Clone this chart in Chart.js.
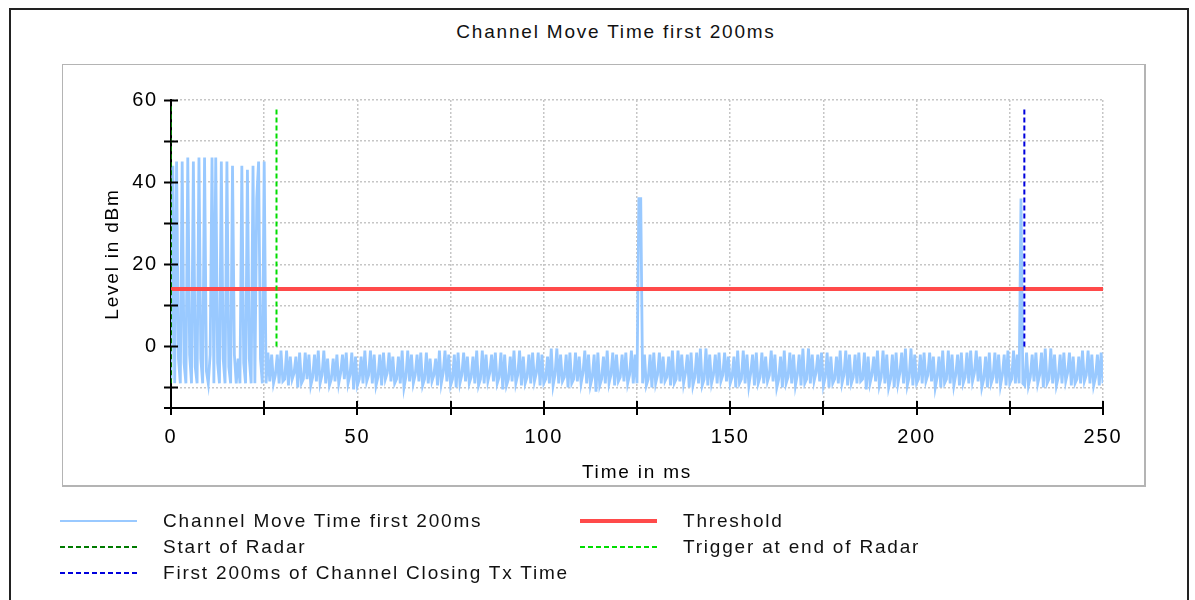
<!DOCTYPE html>
<html>
<head>
<meta charset="utf-8">
<script src="https://cdn.jsdelivr.net/npm/chart.js@4"></script>
<style>
    body { margin: 0; background: #fff; font-family: 'Liberation Sans', Arial, sans-serif; }
    #page { position: relative; width: 1195px; height: 600px; overflow: hidden; }
    #frame { position: absolute; left: 9px; top: 8px; width: 1180px; height: 620px; border: 2px solid #222; box-sizing: border-box; }
    #panel { position: absolute; left: 62px; top: 64px; width: 1084px; height: 423px; border: 2px solid #b4b4b4; border-left-width: 1px; border-top-width: 1px; box-sizing: border-box; }
    #titulo { position: absolute; left: 316px; top: 21px; width: 600px; text-align: center; font-size: 19px; letter-spacing: 1.8px; color: #111; }
    #wrap { position: absolute; left: 0; top: 0; width: 1195px; height: 600px; }
    .leg { position: absolute; height: 24px; font-size: 19px; letter-spacing: 1.8px; color: #111; line-height: 24px; }
    .leg span.amostra { position: absolute; left: 0; top: 11px; width: 77px; height: 0; }
    .leg span.texto { position: absolute; left: 103px; top: 0; white-space: nowrap; }
</style>
</head>
<body>
<div id="page">
    <div id="frame"></div>
    <div id="panel"></div>
    <div id="titulo">Channel Move Time first 200ms</div>
    <div id="wrap"><canvas id="grafico"></canvas></div>
    <div id="legenda"></div>
</div>
<script>
// amostras do sinal (dBm), uma a cada 0.5 ms a partir de 0 ms
const sampleStartMs = 0;
const sampleStepMs = 0.5;
const levelDbm = [
    -8, 44, -9, 45, -3, -9, 45, -4, -9, 46,
    -2, -9, 45, -5, -9, 46, -3, -9, 46, -6,
    -9, -2, 46, -9, 46, -4, -9, 45, -3, -9,
    45, -5, -9, 44, -2, -9, -3, -9, 44, -4,
    -9, 43, -3, -9, 44, -9, 36, 45, -3, -9,
    45, -9,
    -1.5, -8.5, -2, -9, -7, -2, -9, -1, -8.5, -8,
    -1, -9.5, -2.5, -8, -6.5, -2.5, -10, -1.5, -9, -8,
    -1.5, -8, -2, -9.5, -7.5, -2, -8.5, -1, -9, -7,
    -1, -9, -3, -9.5, -8, -3, -8.5, -2, -9, -6.5,
    -2, -8, -1.5, -9, -7, -1.5, -10.5, -2.5, -9.5, -8,
    -2.5, -9, -1, -8.5, -7, -1, -9, -2, -9.5, -7.5,
    -2, -9.5, -1.5, -8, -6.5, -1.5, -8.5, -2.5, -9, -8,
    -2.5, -9, -1, -10, -7.5, -1, -8.5, -2, -9, -7,
    -2, -8.5, -1.5, -9.5, -8, -1.5, -9, -3, -8.5, -7,
    -3, -9.5, -1, -9, -6.5, -1, -8.5, -2, -9.5, -8,
    -2, -10, -1.5, -9, -7, -1.5, -8.5, -2.5, -9, -7.5,
    -2.5, -9, -1, -9.5, -8, -1, -9, -2, -8.5, -6.5,
    -2, -8.5, -1.5, -9, -7.5, -1.5, -10.5, -2, -9.5, -8,
    -2.5, -8.5, -1, -9, -7, -1, -9.5, -2.5, -9, -7.5,
    -2, -9, -1.5, -8.5, -6.5, -1.5, -9.5, -2, -9, -8,
    -2.5, -9, -0.5, -9.5, -7, -0.5, -9, -2, -8.5, -7.5,
    -2, -10, -1.5, -9, -8, -1.5, -8.5, -2.5, -9, -6.5,
    -1, -9, -2, -9.5, -7.5, -2, -11, -1.5, -9.5, -8,
    -2.5, -9, -1, -9, -7, -1.5, -9.5, -2, -8.5, -7.5,
    -2, -8.5, -1.5, -9, -7, -1, -9, -2, -9, 36,
    36, -9, -2, -9.5, -8, -2, -10, -1.5, -9, -7,
    -1.5, -9, -2.5, -8.5, -7.5, -2.5, -9.5, -1, -9, -8,
    -1, -8.5, -2, -9, -6.5, -2, -10, -1.5, -9.5, -7.5,
    -1.5, -9, -0.5, -9.5, -8, -0.5, -9.5, -2, -9, -7,
    -2, -9, -1.5, -8.5, -7, -1.5, -8.5, -2.5, -9, -7.5,
    -2.5, -10, -1, -9, -8, -1, -9, -2, -9.5, -6.5,
    -2, -9.5, -1.5, -9, -7.5, -1.5, -9, -2.5, -8.5, -7,
    -1, -8.5, -2, -10, -8, -2.5, -10, -1, -9, -7.5,
    -1.5, -9, -2, -9.5, -7, -2, -9.5, -0.5, -9, -8,
    -0.5, -9, -2, -8.5, -6.5, -2, -8.5, -1.5, -9.5, -7.5,
    -1.5, -10, -2.5, -9, -8, -2.5, -9, -1, -9, -7,
    -1, -9.5, -2, -9, -7.5, -2, -9, -1.5, -8.5, -8,
    -1.5, -10.5, -2.5, -9, -7, -2.5, -8.5, -1, -9.5, -7.5,
    -1, -9, -2, -10, -8, -2, -10, -1.5, -9, -6.5,
    -1.5, -9, -0.5, -9.5, -7.5, -0.5, -9.5, -2, -9, -8,
    -2, -9, -1.5, -8.5, -7, -1.5, -8.5, -2.5, -10, -7.5,
    -2.5, -10, -1, -9, -8, -1, -9, -2, -9.5, -7,
    -2, -9.5, -1.5, -9, -7.5, -1.5, -9, -1, -8.5, -6.5,
    -1, -8.5, -2.5, -10, -8, -2.5, -10, -1.5, -9, -7.5,
    -1.5, -9, -2, -9.5, -7, -2, -9.5, -1, -9, -8,
    -1, -9, -2, -9, 36, -9, -9.5, -1.5, -9.5, -7.5,
    -2, -8.5, -1.5, -9, -7, -1.5, -10, -0.5, -9, -8,
    -0.5, -9, -2, -9.5, -7.5, -2, -9, -1.5, -8.5, -6.5,
    -1.5, -9.5, -2.5, -9, -8, -2.5, -9, -1, -8.5, -7,
    -1, -9, -2, -9.5, -7.5, -2, -9.5, -1.5, -9
];

const thresholdDbm = 14;
const startRadarMs = 0;
const triggerMs = 28.3;
const closingTxMs = 228.9;
const startRadarRange = [-9, 59];
const markerRange = [0, 58];

const xTicksMs = [0, 50, 100, 150, 200, 250];
const yTicksDbm = [0, 20, 40, 60];

const nomes = {
    sinal: 'Channel Move Time first 200ms',
    limiar: 'Threshold',
    inicio: 'Start of Radar',
    gatilho: 'Trigger at end of Radar',
    fechamento: 'First 200ms of Channel Closing Tx Time'
};

const cores = {
    sinal: '#99c9ff',
    limiar: '#ff4a4a',
    inicio: '#007a00',
    gatilho: '#00dd00',
    fechamento: '#0000dd'
};

const fonteTexto = "'Liberation Sans', Arial, sans-serif";

function pontosSinal() {
    return levelDbm.map((v, i) => ({ x: sampleStartMs + i * sampleStepMs, y: v }));
}

function linhaVertical(x, faixa) {
    return [{ x: x, y: faixa[0] }, { x: x, y: faixa[1] }];
}

// marcas de escala em cruz, como no original
const marcasEixo = {
    id: 'marcasEixo',
    beforeDraw(chart) {
        chart.ctx.letterSpacing = '1.8px';
    },
    afterDraw(chart) {
        const ctx = chart.ctx;
        const xs = chart.scales.x;
        const ys = chart.scales.y;
        const x0 = xs.getPixelForValue(0);
        const yBase = chart.chartArea.bottom;
        ctx.save();
        ctx.strokeStyle = '#000';
        ctx.lineWidth = 2;
        ctx.beginPath();
        ys.ticks.forEach(t => {
            const py = Math.round(ys.getPixelForValue(t.value)) + 0.5;
            ctx.moveTo(x0 - 7, py);
            ctx.lineTo(x0 + 7, py);
        });
        ctx.moveTo(x0 - 7, yBase);
        ctx.lineTo(x0 + 7, yBase);
        xs.ticks.forEach(t => {
            const px = Math.round(xs.getPixelForValue(t.value));
            ctx.moveTo(px, yBase - 7);
            ctx.lineTo(px, yBase + 7);
        });
        ctx.stroke();
        ctx.restore();
    }
};

const ctx = document.getElementById('grafico').getContext('2d');
const grafico = new Chart(ctx, {
    type: 'line',
    data: {
        datasets: [
            {
                label: nomes.sinal,
                data: pontosSinal(),
                borderColor: cores.sinal,
                borderWidth: 2.8,
                pointRadius: 0,
                tension: 0,
                order: 5
            },
            {
                label: nomes.limiar,
                data: [{ x: 0, y: thresholdDbm }, { x: 250, y: thresholdDbm }],
                borderColor: cores.limiar,
                borderWidth: 4,
                pointRadius: 0,
                order: 4
            },
            {
                label: nomes.inicio,
                data: linhaVertical(startRadarMs, startRadarRange),
                borderColor: cores.inicio,
                borderWidth: 2,
                borderDash: [5, 3],
                pointRadius: 0,
                order: 3
            },
            {
                label: nomes.gatilho,
                data: linhaVertical(triggerMs, markerRange),
                borderColor: cores.gatilho,
                borderWidth: 2,
                borderDash: [5, 3],
                pointRadius: 0,
                order: 2
            },
            {
                label: nomes.fechamento,
                data: linhaVertical(closingTxMs, markerRange),
                borderColor: cores.fechamento,
                borderWidth: 2,
                borderDash: [5, 3],
                pointRadius: 0,
                order: 1
            }
        ]
    },
    options: {
        responsive: true,
        maintainAspectRatio: false,
        animation: false,
        layout: { padding: { left: 100, right: 92, top: 100, bottom: 112 } },
        plugins: {
            legend: { display: false },
            title: { display: false },
            tooltip: { enabled: false }
        },
        scales: {
            x: {
                type: 'linear',
                min: 0,
                max: 250,
                afterFit: (s) => { s.height = 80; },
                border: { display: true, color: '#000', width: 2, dash: [2, 2] },
                grid: { color: '#c6c6c6', lineWidth: 1.5, drawTicks: false },
                ticks: {
                    stepSize: 25,
                    padding: 17,
                    color: '#000',
                    font: { family: fonteTexto, size: 20 },
                    maxRotation: 0,
                    autoSkip: false,
                    callback: (v) => xTicksMs.includes(v) ? String(v) : ''
                },
                title: {
                    display: true,
                    text: 'Time in ms',
                    color: '#000',
                    font: { family: fonteTexto, size: 19 },
                    padding: { top: 0, bottom: 4 }
                }
            },
            y: {
                min: -15,
                max: 60,
                afterFit: (s) => { s.width = 71; },
                border: { display: true, color: '#000', width: 2, dash: [2, 2] },
                grid: { color: '#c6c6c6', lineWidth: 1.5, drawTicks: false },
                ticks: {
                    stepSize: 10,
                    includeBounds: false,
                    padding: 13,
                    color: '#000',
                    font: { family: fonteTexto, size: 20 },
                    callback: (v) => yTicksDbm.includes(v) ? String(v) : ''
                },
                title: {
                    display: true,
                    text: 'Level in dBm',
                    color: '#000',
                    font: { family: fonteTexto, size: 19 },
                    padding: { top: 1, bottom: 0 }
                }
            }
        }
    },
    plugins: [marcasEixo]
});

// legenda em duas colunas
const itensLegenda = [
    { chave: 'sinal', x: 60, y: 509, largura: 2, tracejado: false },
    { chave: 'limiar', x: 580, y: 509, largura: 4, tracejado: false },
    { chave: 'inicio', x: 60, y: 535, largura: 2, tracejado: true },
    { chave: 'gatilho', x: 580, y: 535, largura: 2, tracejado: true },
    { chave: 'fechamento', x: 60, y: 561, largura: 2, tracejado: true }
];

const legenda = document.getElementById('legenda');
itensLegenda.forEach(item => {
    const div = document.createElement('div');
    div.className = 'leg';
    div.style.left = item.x + 'px';
    div.style.top = item.y + 'px';
    const amostra = document.createElement('span');
    amostra.className = 'amostra';
    amostra.style.top = (12 - item.largura / 2) + 'px';
    amostra.style.height = item.largura + 'px';
    amostra.style.background = item.tracejado
        ? `repeating-linear-gradient(90deg, ${cores[item.chave]} 0 5px, transparent 5px 8px)`
        : cores[item.chave];
    const texto = document.createElement('span');
    texto.className = 'texto';
    texto.textContent = nomes[item.chave];
    div.appendChild(amostra);
    div.appendChild(texto);
    legenda.appendChild(div);
});
</script>
</body>
</html>
